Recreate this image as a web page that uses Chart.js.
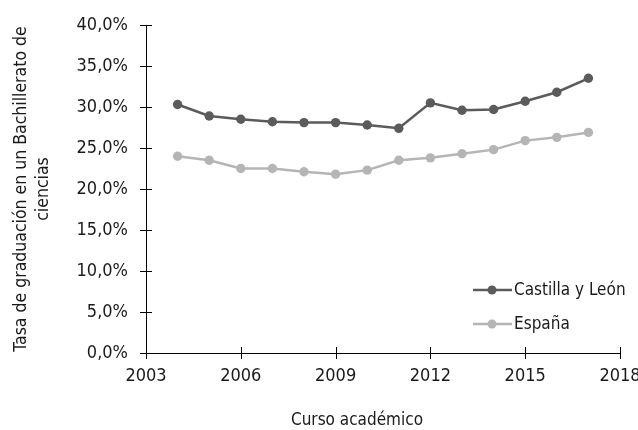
<!DOCTYPE html>
<html>
<head>
<meta charset="utf-8">
<script src="https://cdn.jsdelivr.net/npm/chart.js@4"></script>
<style>
  html, body { margin: 0; padding: 0; background: #fff; }
  #wrap { width: 638px; height: 430px; }
</style>
</head>
<body>
<div id="wrap"><canvas id="c" width="638" height="430"></canvas></div>
<script>
/* Tasa de graduación en Bachillerato de ciencias: Castilla y León vs España */
const years = [2004, 2005, 2006, 2007, 2008, 2009, 2010, 2011, 2012, 2013, 2014, 2015, 2016, 2017];
const castilla = [30.3, 28.9, 28.5, 28.2, 28.1, 28.1, 27.8, 27.4, 30.5, 29.6, 29.7, 30.7, 31.8, 33.5];
const espana = [24.0, 23.5, 22.5, 22.5, 22.1, 21.8, 22.3, 23.5, 23.8, 24.3, 24.8, 25.9, 26.3, 26.9];
const seriesNames = ["Castilla y León", "España"];
const xTicks = [2003, 2006, 2009, 2012, 2015, 2018];
const yTicks = [0, 5, 10, 15, 20, 25, 30, 35, 40];
const xTitle = "Curso académico";
const yTitle = ["Tasa de graduación en un Bachillerato de", "ciencias"];

const DARK = "#5b5b5b";
const LIGHT = "#b5b5b5";
const TEXT = "#1a1a1a";
const FONT = "'DejaVu Sans Condensed', 'Liberation Sans', sans-serif";

const toPoints = (vals) => vals.map((v, i) => ({ x: years[i], y: v }));

// cross-shaped tick marks on both axes
const crossTicks = {
  id: "crossTicks",
  afterDraw(chart) {
    const ctx = chart.ctx;
    const xs = chart.scales.x, ys = chart.scales.y;
    ctx.save();
    ctx.strokeStyle = "#000";
    ctx.lineWidth = 1;
    ctx.beginPath();
    xs.ticks.forEach((t) => {
      const px = Math.round(xs.getPixelForValue(t.value)) + 0.5;
      ctx.moveTo(px, ys.bottom - 6);
      ctx.lineTo(px, ys.bottom + 6);
    });
    ys.ticks.forEach((t) => {
      const py = Math.round(ys.getPixelForValue(t.value)) + 0.5;
      ctx.moveTo(xs.left - 6, py);
      ctx.lineTo(xs.left + 6, py);
    });
    ctx.stroke();
    ctx.restore();
  },
};

// legend (line with a dot) and the x title, which sits left of the plot centre
const extras = {
  id: "extras",
  afterDraw(chart) {
    const ctx = chart.ctx;
    ctx.save();
    ctx.textBaseline = "middle";
    chart.data.datasets.forEach((ds, i) => {
      const y = 290 + i * 34;
      ctx.strokeStyle = ds.borderColor;
      ctx.lineWidth = 2.5;
      ctx.beginPath();
      ctx.moveTo(473, y);
      ctx.lineTo(512, y);
      ctx.stroke();
      ctx.fillStyle = ds.borderColor;
      ctx.beginPath();
      ctx.arc(492, y, 4.5, 0, Math.PI * 2);
      ctx.fill();
      ctx.fillStyle = TEXT;
      ctx.font = "17px " + FONT;
      ctx.textAlign = "left";
      ctx.fillText(ds.label, 514, y + 1);
    });
    ctx.fillStyle = TEXT;
    ctx.font = "17px " + FONT;
    ctx.textAlign = "center";
    ctx.fillText(xTitle, 357, 421);
    ctx.restore();
  },
};

new Chart(document.getElementById("c"), {
  type: "line",
  data: {
    datasets: [
      { label: seriesNames[0], data: toPoints(castilla), borderColor: DARK, backgroundColor: DARK },
      { label: seriesNames[1], data: toPoints(espana), borderColor: LIGHT, backgroundColor: LIGHT },
    ],
  },
  options: {
    responsive: false,
    animation: false,
    layout: { padding: 0 },
    elements: {
      line: { borderWidth: 2.5, tension: 0 },
      point: { radius: 4.7, borderWidth: 0, hoverRadius: 5 },
    },
    plugins: { legend: { display: false }, tooltip: { enabled: false } },
    scales: {
      x: {
        type: "linear",
        min: 2003,
        max: 2018,
        afterBuildTicks: (s) => { s.ticks = xTicks.map((v) => ({ value: v })); },
        afterFit: (s) => { s.height = 77; s.paddingLeft = 0; s.paddingRight = 18; },
        grid: { display: false, drawTicks: false },
        border: { display: true, color: "#000", width: 1 },
        ticks: {
          padding: 13,
          color: TEXT,
          font: { family: FONT, size: 18 },
          maxRotation: 0,
          callback: (v) => String(v),
        },
      },
      y: {
        min: 0,
        max: 40,
        afterBuildTicks: (s) => { s.ticks = yTicks.map((v) => ({ value: v })); },
        afterFit: (s) => { s.width = 146; s.paddingTop = 25; s.paddingBottom = 0; },
        grid: { display: false, drawTicks: false },
        border: { display: true, color: "#000", width: 1 },
        ticks: {
          padding: 18,
          color: TEXT,
          font: { family: FONT, size: 18 },
          callback: (v) => v.toFixed(1).replace(".", ",") + "%",
        },
        title: {
          display: true,
          text: yTitle,
          color: TEXT,
          font: { family: FONT, size: 17.5, lineHeight: 1.31 },
          padding: { top: 9.5, bottom: 0 },
        },
      },
    },
  },
  plugins: [crossTicks, extras],
});
</script>
</body>
</html>
